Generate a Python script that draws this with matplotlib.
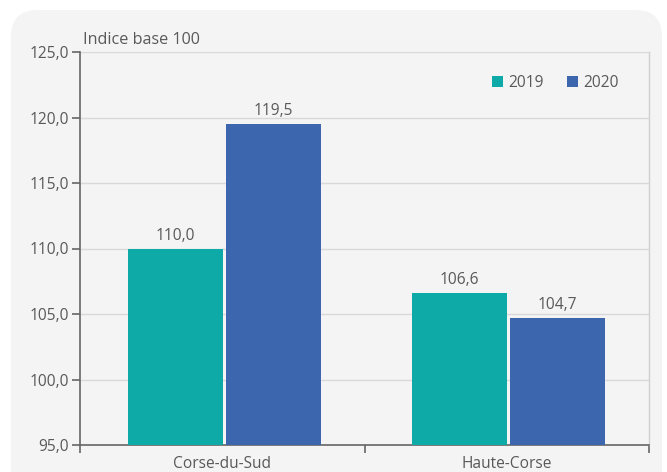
import matplotlib.pyplot as plt
from matplotlib.patches import FancyBboxPatch
import numpy as np

plt.rcParams['font.family'] = ['Open Sans', 'DejaVu Sans']

categories = ["Corse-du-Sud", "Haute-Corse"]
series = ["2019", "2020"]
values_2019 = [110.0, 106.6]
values_2020 = [119.5, 104.7]
colors = ["#0daaa7", "#3c67ae"]
yticks = [95, 100, 105, 110, 115, 120, 125]

txt = "#595959"
fs = 11.2

fig = plt.figure(figsize=(6.67, 4.72), dpi=100)
fig.patch.set_facecolor("white")
panel = FancyBboxPatch((11 / 667, -0.1), 651 / 667, (472 - 10) / 472 + 0.1,
                       boxstyle="round,pad=0,rounding_size=0.04",
                       transform=fig.transFigure, facecolor="#f4f4f4",
                       edgecolor="none", zorder=-10, mutation_aspect=667 / 472)
fig.patches.append(panel)

ax = fig.add_axes([80 / 667, 27 / 472, (649 - 80) / 667, (445 - 52) / 472])
ax.set_zorder(1)
ax.set_facecolor("#f4f4f4")

x = np.arange(len(categories))
w = 0.334
for vals, lab, c, off in [(values_2019, series[0], colors[0], -0.165),
                          (values_2020, series[1], colors[1], 0.179)]:
    bars = ax.bar(x + off, vals, w, label=lab, color=c, linewidth=0, zorder=3)
    for b, v in zip(bars, vals):
        ax.annotate(f"{v:.1f}".replace(".", ","),
                    (b.get_x() + b.get_width() / 2, v),
                    xytext=(0, 3.5), textcoords="offset points",
                    ha="center", va="bottom", fontsize=fs, color=txt)

ax.set_xlim(-0.5, len(categories) - 0.5)
ax.set_ylim(95, 125)
ax.set_yticks(yticks)
ax.set_yticklabels([f"{t:.1f}".replace(".", ",") for t in yticks])
ax.set_xticks(x)
ax.set_xticklabels(categories)
ax.set_xticks(np.arange(len(categories) + 1) - 0.5, minor=True)
ax.tick_params(axis="x", which="major", length=0, pad=8, labelsize=fs, colors=txt)
ax.tick_params(axis="x", which="minor", length=6, width=1.2, color="#666666")
ax.tick_params(axis="y", length=6, width=1.2, color="#666666", labelsize=fs,
               labelcolor=txt, pad=2)

ax.grid(axis="y", color="#d9d9d9", linewidth=1, zorder=0)
for s in ["left", "bottom"]:
    ax.spines[s].set_color("#666666")
    ax.spines[s].set_linewidth(1.2)
ax.spines["top"].set_visible(False)
ax.spines["right"].set_color("#d0d0d0")
ax.spines["right"].set_linewidth(1)

ax.text(0.005, 1.01, "Indice base 100", transform=ax.transAxes,
        fontsize=11.6, color=txt, va="bottom", ha="left")

ax.legend(loc="center right", bbox_to_anchor=(0.947, 0.921), ncol=2,
          frameon=False, borderpad=0, borderaxespad=0,
          handlelength=0.7, handleheight=0.7, handletextpad=0.35,
          columnspacing=1.5, fontsize=fs, labelcolor=txt)

fig.savefig("out.png", dpi=100, facecolor="white")
